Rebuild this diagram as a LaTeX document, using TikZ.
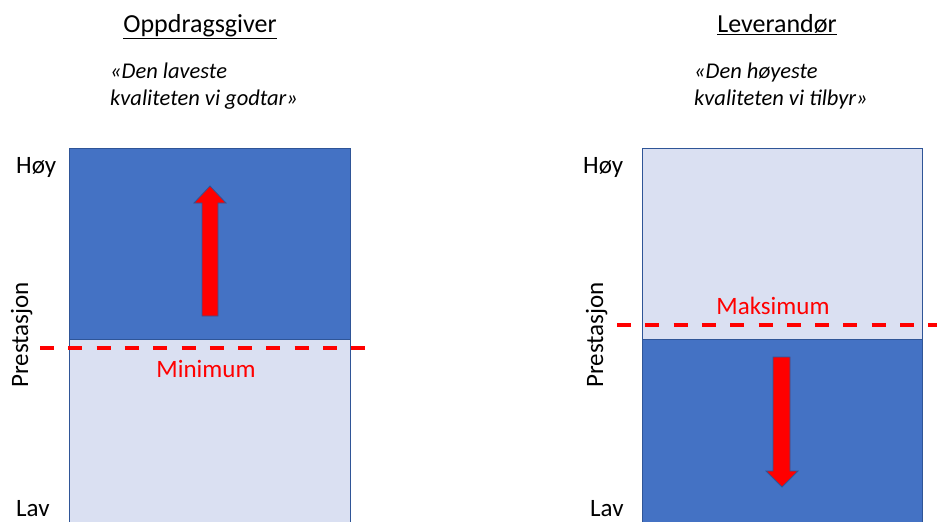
\documentclass[tikz,border=0pt]{standalone}
\usepackage{fontspec}
\setmainfont{Carlito}
\definecolor{darkb}{HTML}{4472C4}
\definecolor{lightb}{HTML}{DAE0F2}
\definecolor{edgeb}{HTML}{2F5597}
\definecolor{redc}{HTML}{FF0000}
\begin{document}
\begin{tikzpicture}[x=1pt,y=-1pt,
  box/.style={draw=edgeb,line width=0.9pt},
  limit/.style={draw=redc,line width=3.6pt,dash pattern=on 14pt off 14.3pt},
  arr/.style={fill=redc,draw=edgeb,line width=0.8pt,line join=miter},
  lbl/.style={font=\fontsize{25}{29}\selectfont,inner sep=0pt},
  ttl/.style={font=\fontsize{26}{30}\selectfont,inner sep=0pt},
  quote/.style={font=\fontsize{22.5}{27}\selectfont\itshape,inner sep=0pt,align=left},
  redlbl/.style={lbl,text=redc}]
\useasboundingbox (0,0) rectangle (937,522);
\clip (0,0) rectangle (937,522);
% left block
\fill[darkb] (69,148) rectangle (350,339);
\fill[lightb] (69,339) rectangle (350,530);
\draw[box] (69,530) -- (69,148) -- (350,148) -- (350,530);
\draw[box] (69,339) -- (350,339);
% right block
\fill[lightb] (642,148) rectangle (922,339);
\fill[darkb] (642,339) rectangle (922,530);
\draw[box] (642,530) -- (642,148) -- (922,148) -- (922,530);
\draw[box] (642,339) -- (922,339);
% limits
\coordinate (l1) at (40,348); \coordinate (l2) at (368,348);
\draw[limit] (l1) -- (l2);
\coordinate (r1) at (617,325); \coordinate (r2) at (945,325);
\draw[limit] (r1) -- (r2);
% arrows
\draw[arr] (202,316) -- (202,203) -- (194,203) -- (210,186) -- (226,203) -- (218,203) -- (218,316) -- cycle;
\draw[arr] (773,357) -- (790,357) -- (790,471) -- (798,471) -- (782,487) -- (766,471) -- (773,471) -- cycle;
% titles
\node[ttl,anchor=base] (t1) at (200,32) {\underline{Oppdragsgiver}};
\node[ttl,anchor=base] (t2) at (777,32) {\underline{Leverandør}};
\node[quote,anchor=north west] (q1) at (110,63) {«Den laveste\\kvaliteten vi godtar»};
\node[quote,anchor=north west] (q2) at (694,63) {«Den høyeste\\kvaliteten vi tilbyr»};
% axis labels
\node[lbl,anchor=base west] (h1) at (16,173) {Høy};
\node[lbl,anchor=base west] (lv1) at (16,516) {Lav};
\node[lbl,rotate=90,anchor=base] (p1) at (28,335) {Prestasjon};
\node[lbl,anchor=base west] (h2) at (583,173) {Høy};
\node[lbl,anchor=base west] (lv2) at (590,516) {Lav};
\node[lbl,rotate=90,anchor=base] (p2) at (603,335) {Prestasjon};
% red labels
\node[redlbl,anchor=base] (mn) at (206,377) {Minimum};
\node[redlbl,anchor=base] (mx) at (773,314) {Maksimum};
\end{tikzpicture}
\end{document}
